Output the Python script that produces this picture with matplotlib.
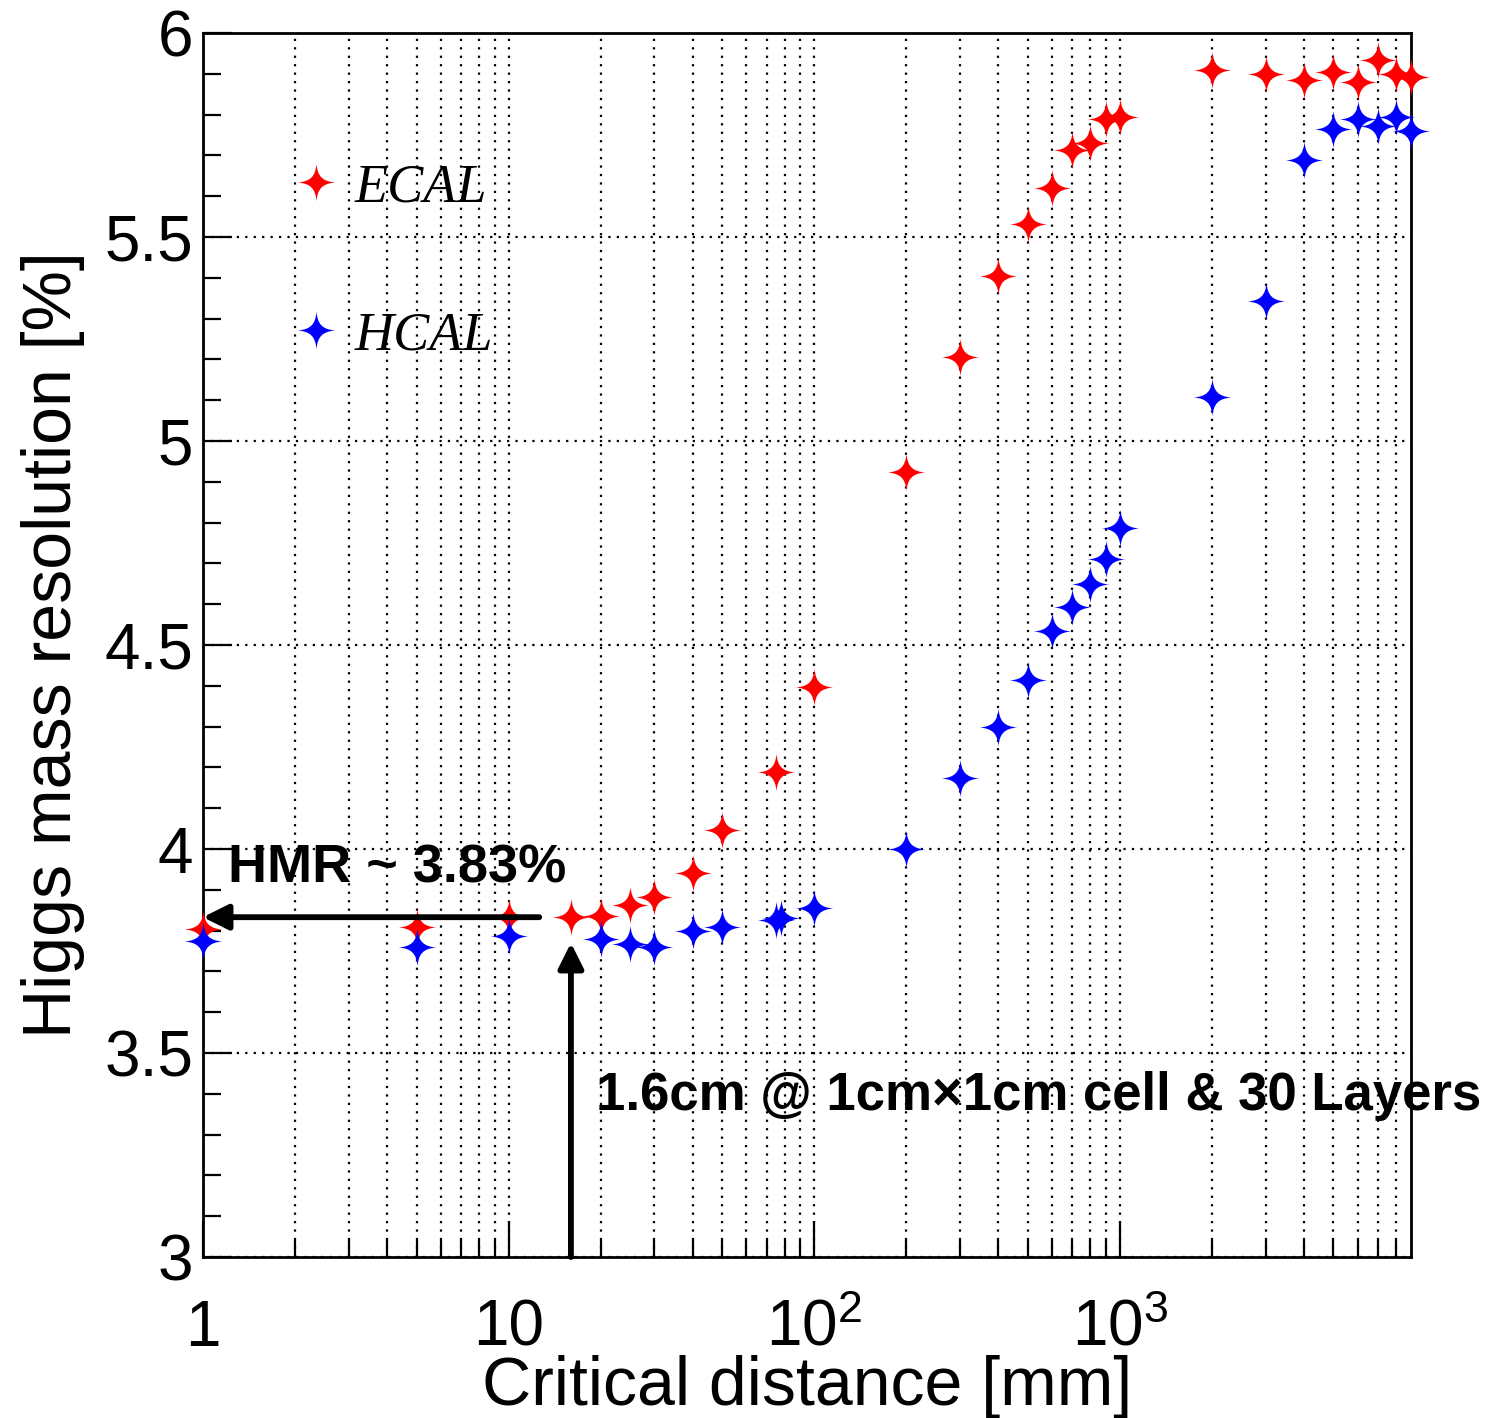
import numpy as np
import matplotlib
matplotlib.use("Agg")
import matplotlib.pyplot as plt
from matplotlib.path import Path
from matplotlib.ticker import FixedLocator, FixedFormatter, MultipleLocator, NullFormatter

plt.rcParams['font.family'] = ['Liberation Sans', 'DejaVu Sans']
plt.rcParams['mathtext.fontset'] = 'custom'
plt.rcParams['mathtext.rm'] = 'Liberation Sans'
plt.rcParams['mathtext.it'] = 'Liberation Sans:italic'

# ---------------- data ----------------
ecal_x = [1, 5, 10, 16, 20, 25, 30, 40, 50, 75, 100, 200, 300, 400, 500, 600,
          700, 800, 900, 1000, 2000, 3000, 4000, 5000, 6000, 7000, 8000, 9000]
ecal_y = [3.805, 3.81, 3.833, 3.833, 3.837, 3.863, 3.882, 3.942, 4.047, 4.19,
          4.396, 4.925, 5.205, 5.405, 5.531, 5.621, 5.713, 5.731, 5.789, 5.795,
          5.909, 5.899, 5.885, 5.905, 5.880, 5.935, 5.900, 5.893]

hcal_x = [1, 5, 10, 20, 25, 30, 40, 50, 75, 78, 100, 200, 300, 400, 500, 600,
          700, 800, 900, 1000, 2000, 3000, 4000, 5000, 6000, 7000, 8000, 9000]
hcal_y = [3.775, 3.761, 3.787, 3.779, 3.767, 3.761, 3.800, 3.810, 3.826, 3.830,
          3.856, 4.000, 4.173, 4.300, 4.414, 4.535, 4.594, 4.650, 4.712, 4.787,
          5.109, 5.343, 5.689, 5.766, 5.789, 5.772, 5.793, 5.760]

series_labels = ["ECAL", "HCAL"]
series_colors = ["#ff0000", "#0000ff"]

x_major = [1, 10, 100, 1000]
x_major_labels = ["1", "10", r"$\mathregular{10^{2}}$", r"$\mathregular{10^{3}}$"]
y_major = [3, 3.5, 4, 4.5, 5, 5.5, 6]
y_major_labels = ["3", "3.5", "4", "4.5", "5", "5.5", "6"]

hmr_value = 3.833
chosen_distance = 16  # mm

# ---------------- marker ----------------
c1, c2 = 0.06, 0.32
verts = [(0, 1), (c1, c2), (c2, c1), (1, 0),
         (c2, -c1), (c1, -c2), (0, -1),
         (-c1, -c2), (-c2, -c1), (-1, 0),
         (-c2, c1), (-c1, c2), (0, 1), (0, 1)]
codes = [Path.MOVETO] + [Path.CURVE4] * 12 + [Path.CLOSEPOLY]
star = Path(verts, codes)

# ---------------- figure ----------------
fig = plt.figure(figsize=(14.92, 14.18), dpi=100)
ax = fig.add_axes([0.136, 0.1135, 0.946 - 0.136, 0.9767 - 0.1135])

ax.set_xscale('log')
ax.set_xlim(1, 9000)
ax.set_ylim(3, 6)

ms = 27
ax.plot(ecal_x, ecal_y, linestyle='none', marker=star, markersize=ms,
        color=series_colors[0], markeredgewidth=0, clip_on=False, zorder=4)
ax.plot(hcal_x, hcal_y, linestyle='none', marker=star, markersize=ms,
        color=series_colors[1], markeredgewidth=0, clip_on=False, zorder=5)

# ticks
ax.xaxis.set_major_locator(FixedLocator(x_major))
ax.xaxis.set_major_formatter(FixedFormatter(x_major_labels))
minors = [m * 10 ** d for d in range(0, 4) for m in range(2, 10) if m * 10 ** d < 9000]
ax.xaxis.set_minor_locator(FixedLocator(minors))
ax.xaxis.set_minor_formatter(NullFormatter())
ax.yaxis.set_major_locator(FixedLocator(y_major))
ax.yaxis.set_major_formatter(FixedFormatter(y_major_labels))
ax.yaxis.set_minor_locator(MultipleLocator(0.1))

ax.tick_params(which='both', direction='in', top=False, right=False, width=1.6, color='black')
ax.tick_params(axis='x', which='major', length=26, labelsize=46, pad=30)
ax.tick_params(axis='x', which='minor', length=12.5)
ax.tick_params(axis='y', which='major', length=21, labelsize=46, pad=7)
ax.tick_params(axis='y', which='minor', length=13)

for s in ax.spines.values():
    s.set_linewidth(2.0)

# grid
grid_kw = dict(color='black', linestyle=(0, (1, 2.8)), linewidth=1.6)
ax.grid(True, which='both', axis='x', **grid_kw)
ax.grid(True, which='major', axis='y', **grid_kw)
ax.set_axisbelow(True)

# labels
ax.set_xlabel("Critical distance [mm]", fontsize=49)
ax.xaxis.label.set_va('center')
ax.xaxis.set_label_coords(0.5, -0.106)
ax.set_ylabel("Higgs mass resolution [%]", fontsize=49)
ax.yaxis.label.set_va('center')
ax.yaxis.set_label_coords(-0.124, 0.5)

# legend (manual, ROOT style)
leg_y = [0.878, 0.757]
for lab, col, yy in zip(series_labels, series_colors, leg_y):
    ax.plot([0.0935], [yy], transform=ax.transAxes, linestyle='none', marker=star,
            markersize=ms, color=col, markeredgewidth=0, clip_on=False, zorder=6)
    ax.text(0.1258, yy, lab, transform=ax.transAxes, fontsize=39,
            family=['Liberation Serif'], style='italic', va='center_baseline', ha='left')

# annotations
arrow_kw = dict(arrowstyle='-|>,head_length=0.4,head_width=0.2', lw=4.2,
                color='black', shrinkA=0, shrinkB=0, mutation_scale=38)
ax.annotate("", xy=(1, hmr_value), xytext=(12.6, hmr_value),
            arrowprops=arrow_kw, annotation_clip=False, zorder=7)
ax.annotate("", xy=(chosen_distance, 3.77), xytext=(chosen_distance, 3.0),
            arrowprops=arrow_kw, annotation_clip=False, zorder=7)

ax.text(1.207, 3.917, "HMR ~ 3.83%", fontsize=39, fontweight='bold',
        ha='left', va='baseline', zorder=8)
ax.text(19.4, 3.36, "1.6cm @ 1cm\u00d71cm cell & 30 Layers", fontsize=38,
        fontweight='bold', ha='left', va='baseline', zorder=8, clip_on=False)

fig.savefig("out.png", dpi=100)
